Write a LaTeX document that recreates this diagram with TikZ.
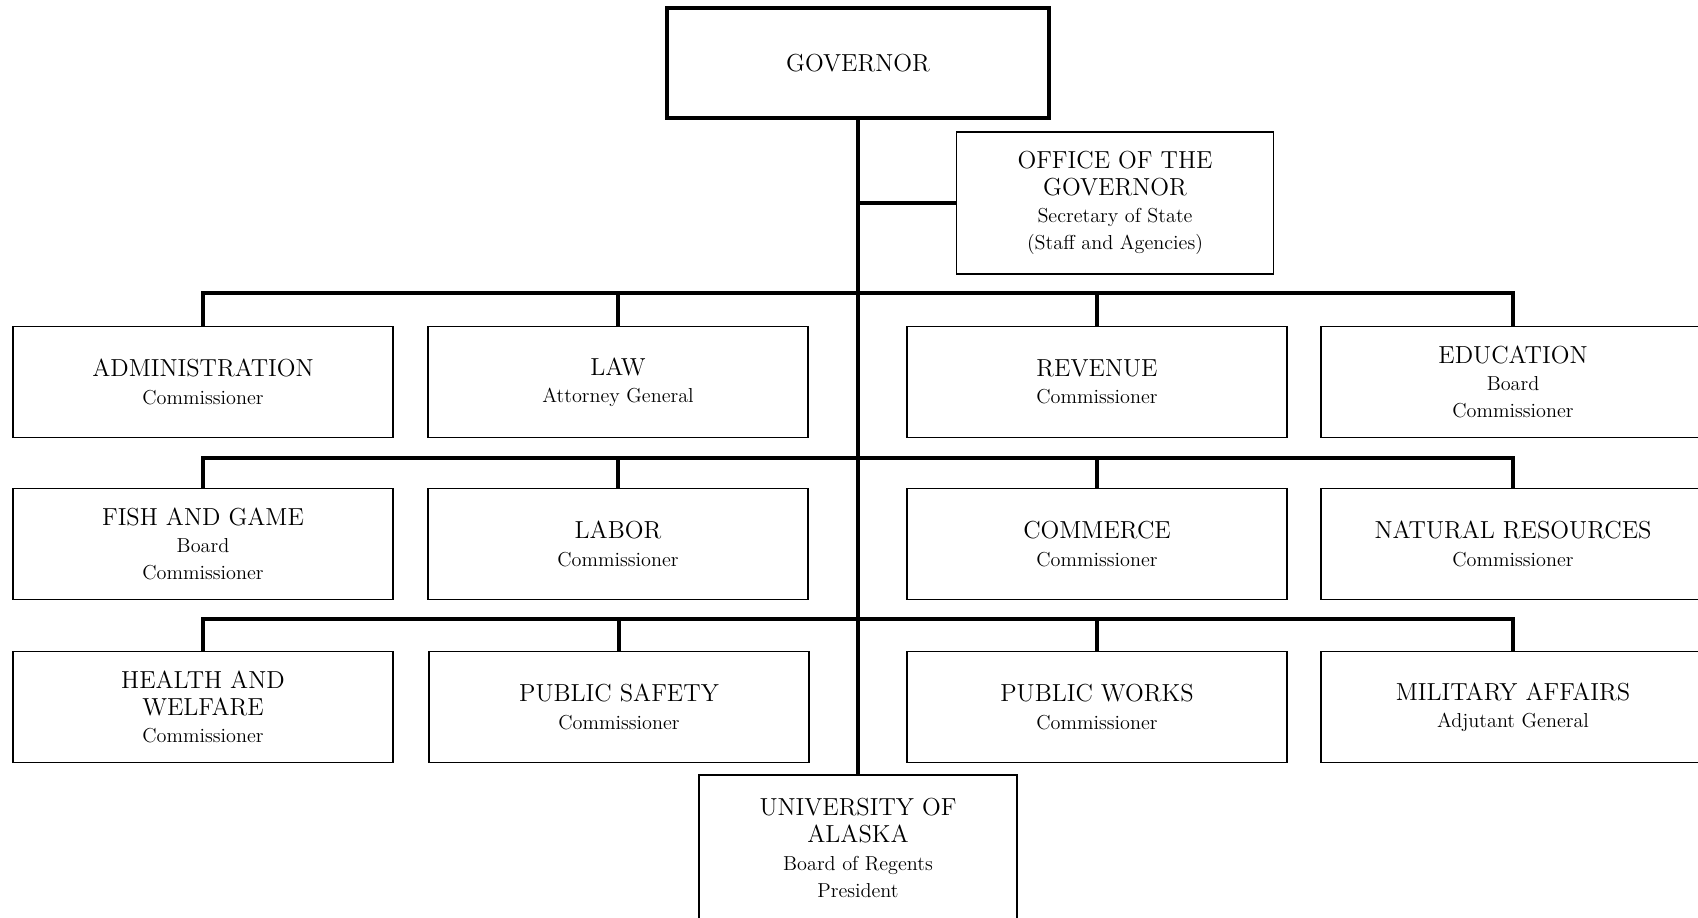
\documentclass[tikz,border=0pt]{standalone}
\usetikzlibrary{positioning,calc}
\newcommand{\subt}{\fontsize{11.5}{15.5}\selectfont}
\tikzset{
    dept/.style={draw, line width=1pt, minimum width=76mm, minimum height=22.2mm, inner sep=0pt, align=center, font=\fontsize{14}{15.5}\selectfont},
    chief/.style={draw, line width=2.3pt, minimum width=76.4mm, minimum height=22mm, inner sep=0pt, font=\fontsize{14}{15.5}\selectfont},
    link/.style={line width=2.3pt}
}

\begin{document}
\begin{tikzpicture}[x=0.2mm, y=-0.2mm]
    \useasboundingbox (0,0) rectangle (1698,918);
    \clip (0,0) rectangle (1698,918);

    \node[chief] (gov) at (858,63) {GOVERNOR};
    \node[dept, minimum width=63.4mm, minimum height=28.4mm] (office) at (1115,203) {OFFICE OF THE\\GOVERNOR\\{\subt Secretary of State}\\{\subt (Staff and Agencies)}};

    % first row of departments
    \node[dept] (admin) at (203,382) {ADMINISTRATION\\{\subt Commissioner}};
    \node[dept] (law) at (618,382) {LAW\\{\subt Attorney General}};
    \node[dept] (rev) at (1097,382) {REVENUE\\{\subt Commissioner}};
    \node[dept, minimum width=76.8mm] (edu) at (1513,382) {EDUCATION\\{\subt Board}\\{\subt Commissioner}};

    % second row
    \node[dept] (fish) at (203,544) {FISH AND GAME\\{\subt Board}\\{\subt Commissioner}};
    \node[dept] (labor) at (618,544) {LABOR\\{\subt Commissioner}};
    \node[dept] (comm) at (1097,544) {COMMERCE\\{\subt Commissioner}};
    \node[dept, minimum width=76.8mm] (natres) at (1513,544) {NATURAL RESOURCES\\{\subt Commissioner}};

    % third row
    \node[dept] (health) at (203,707) {HEALTH AND\\WELFARE\\{\subt Commissioner}};
    \node[dept] (safety) at (619,707) {PUBLIC SAFETY\\{\subt Commissioner}};
    \node[dept] (works) at (1097,707) {PUBLIC WORKS\\{\subt Commissioner}};
    \node[dept, minimum width=76.8mm] (mil) at (1513,707) {MILITARY AFFAIRS\\{\subt Adjutant General}};

    \node[dept, minimum width=63.6mm, minimum height=29.2mm] (univ) at (858,848) {UNIVERSITY OF\\ALASKA\\{\subt Board of Regents}\\{\subt President}};

    \coordinate (j1) at (858,293);
    \coordinate (j2) at (858,458);
    \coordinate (j3) at (858,619);

    \draw[link] (gov.south) -- (univ.north);
    \draw[link] (office.west) -- (office.west -| gov.south);

    \draw[link] (admin.north) -- (admin.north |- j1) -- (edu.north |- j1) -- (edu.north);
    \draw[link] (law.north) -- (law.north |- j1);
    \draw[link] (rev.north) -- (rev.north |- j1);

    \draw[link] (fish.north) -- (fish.north |- j2) -- (natres.north |- j2) -- (natres.north);
    \draw[link] (labor.north) -- (labor.north |- j2);
    \draw[link] (comm.north) -- (comm.north |- j2);

    \draw[link] (health.north) -- (health.north |- j3) -- (mil.north |- j3) -- (mil.north);
    \draw[link] (safety.north) -- (safety.north |- j3);
    \draw[link] (works.north) -- (works.north |- j3);
\end{tikzpicture}
\end{document}
